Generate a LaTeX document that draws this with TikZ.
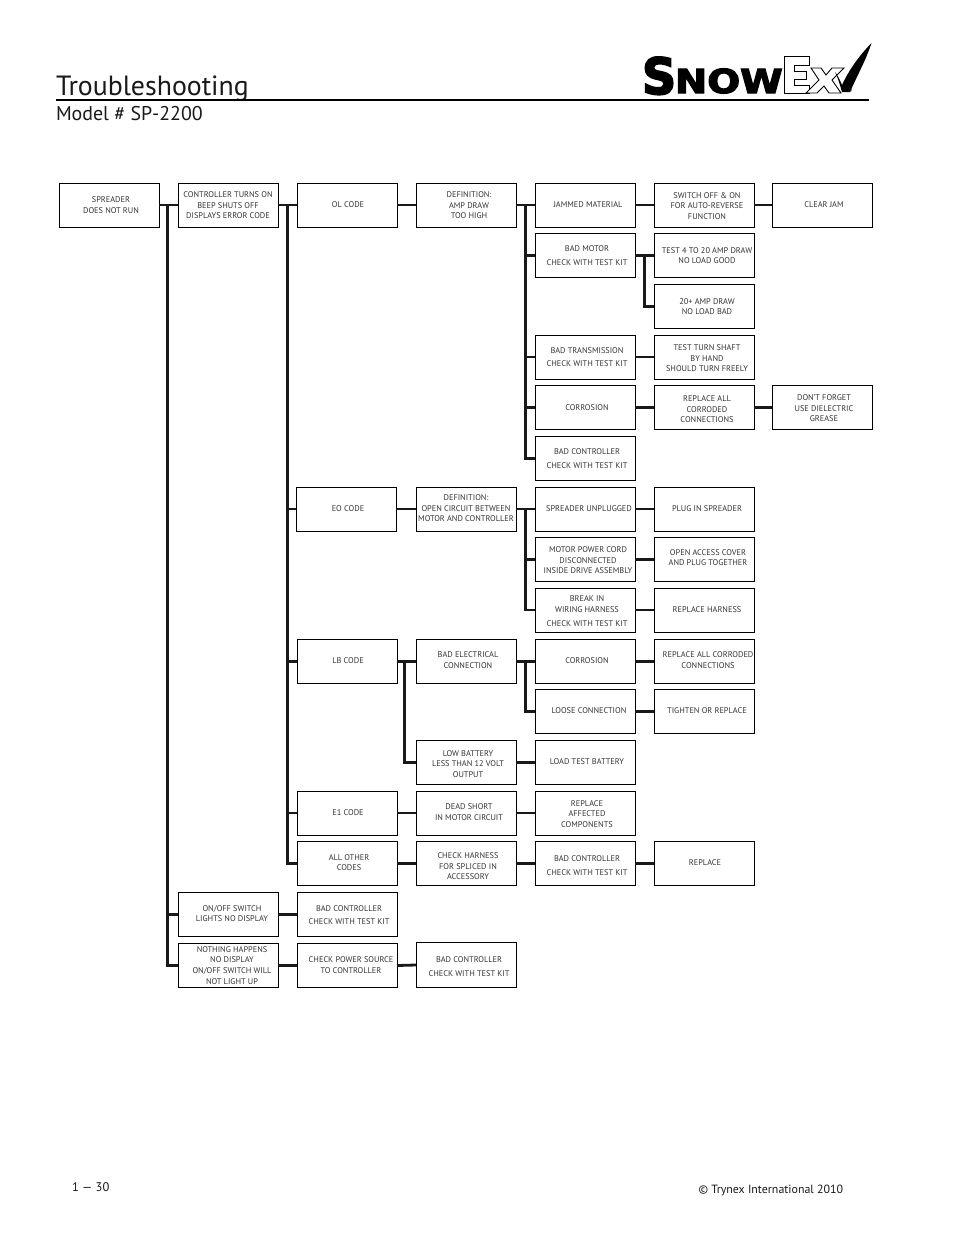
\documentclass[tikz,border=0pt]{standalone}
\usepackage{fontspec}
\setmainfont{PT Sans}
\newfontfamily\logofont{DejaVu Sans}[UprightFont=* Bold,FakeBold=3.5]
\usetikzlibrary{calc}
\newcommand{\tx}[3]{\raisebox{#2pt}[0pt][0pt]{\makebox[0pt]{\hspace*{#1pt}\hspace*{#1pt}\begin{tabular}{@{}c@{}}#3\end{tabular}}}}
\newcommand{\bx}[7]{%
  \pgfmathsetmacro{\cxv}{#2+50}\pgfmathsetmacro{\cyv}{(#3+#4)/2}%
  \pgfmathsetmacro{\hv}{#4-#3}\pgfmathsetmacro{\dxv}{#5-\cxv}\pgfmathsetmacro{\dyv}{\cyv-#6-3}%
  \node[flowbox,minimum height=\hv pt] (#1) at (\cxv,\cyv) {\tx{\dxv}{\dyv}{#7}};}
\tikzset{
  flowbox/.style={draw=black,line width=0.9pt,minimum width=100pt,inner sep=0pt,outer sep=0pt,font=\fontsize{8.3}{10.6}\selectfont,text=black!80},
  conn/.style={draw=black!90,line width=2.8pt,line cap=butt,line join=miter},
  plain/.style={inner sep=0pt,outer sep=0pt,text=black!90}
}
\begin{document}
\begin{tikzpicture}[x=1pt,y=-1pt]
\useasboundingbox (0,0) rectangle (954,1235);
% header
\node[plain,anchor=base west,font=\fontsize{27.8}{30}\selectfont] (title) at (56,95) {Troubleshooting};
\node[plain,anchor=base west,font=\fontsize{19.9}{22}\selectfont] (model) at (56,120) {Model \# SP-2200};
\coordinate (ruleL) at (56,100); \coordinate (ruleR) at (869,100);
\draw[black,line width=2pt] (ruleL) -- (ruleR);
% logo
\node[plain,anchor=base west,text=black,font=\logofont\fontsize{50}{50}\selectfont] (logoS) at (642,94) {\scalebox{0.95}[1]{S}};
\node[plain,anchor=base west,text=black,font=\logofont\fontsize{33}{33}\selectfont] (logoN) at (675,93) {\scalebox{1.17}[1]{NOW}};
\draw[black,line width=1pt,fill=white] (784,56) -- (809,56) -- (809,65) -- (794,65) -- (794,71) -- (806,71) -- (806,79) -- (794,79) -- (794,85) -- (809,85) -- (809,93) -- (784,93) -- cycle;
\draw[black,line width=0.9pt,fill=white] (811,68) -- (821,68) -- (826,75) -- (832,68) -- (844,68) -- (832,80) -- (841,93) -- (829,93) -- (824,86) -- (817,93) -- (806,93) -- (819,80) -- cycle;
\fill[black] (835,72) .. controls (838,76) and (840,80) .. (842,85) .. controls (850,68) and (860,55) .. (871.5,43) .. controls (866,60) and (857,76) .. (850,92) -- (842,92) .. controls (840,85) and (838,78) .. (835,72) -- cycle;
\node[plain,font=\fontsize{7}{7}\selectfont] (logoR) at (850,91) {®};
% boxes
\bx{a}{59}{183}{227}{111}{205}{SPREADER\\DOES NOT RUN}
\bx{b}{178}{183}{227}{228}{205}{CONTROLLER TURNS ON\\BEEP SHUTS OFF\\DISPLAYS ERROR CODE}
\bx{c}{297}{183}{227}{348}{204}{OL CODE}
\bx{d}{416}{183}{227}{469}{205}{DEFINITION:\\AMP DRAW\\TOO HIGH}
\bx{e}{535}{183}{227}{588}{204}{JAMMED MATERIAL}
\bx{f}{654}{183}{227}{707}{205.5}{SWITCH OFF \& ON\\FOR AUTO-REVERSE\\FUNCTION}
\bx{g}{772}{183}{227}{824}{204}{CLEAR JAM}
\bx{h}{535}{233.5}{277.5}{587}{255}{BAD MOTOR\\[3.4pt]CHECK WITH TEST KIT}
\bx{i}{654}{233.5}{277.5}{707}{255.5}{TEST 4 TO 20 AMP DRAW\\NO LOAD GOOD}
\bx{j}{654}{284.5}{328.5}{707}{306.5}{20+ AMP DRAW\\NO LOAD BAD}
\bx{k}{535}{335}{379}{587}{356.5}{BAD TRANSMISSION\\[2.4pt]CHECK WITH TEST KIT}
\bx{l}{654}{335}{379}{707}{358}{TEST TURN SHAFT\\BY HAND\\SHOULD TURN FREELY}
\bx{m}{535}{385.5}{429.5}{587}{407}{CORROSION}
\bx{n}{654}{385.5}{429.5}{707}{409}{REPLACE ALL\\CORRODED\\CONNECTIONS}
\bx{o}{772}{385.5}{429.5}{824}{408}{DON'T FORGET\\USE DIELECTRIC\\GREASE}
\bx{p}{535}{436.5}{480.5}{587}{458}{BAD CONTROLLER\\[3.4pt]CHECK WITH TEST KIT}
\bx{q}{296}{487}{531}{348}{508}{EO CODE}
\bx{r}{416}{487}{531}{466}{508}{DEFINITION:\\OPEN CIRCUIT BETWEEN\\MOTOR AND CONTROLLER}
\bx{s}{535}{487}{531}{589}{508}{SPREADER UNPLUGGED}
\bx{t}{654}{487}{531}{707}{508}{PLUG IN SPREADER}
\bx{u}{535}{537.5}{581.5}{588}{560}{MOTOR POWER CORD\\DISCONNECTED\\INSIDE DRIVE ASSEMBLY}
\bx{v}{654}{537.5}{581.5}{708}{557.5}{OPEN ACCESS COVER\\AND PLUG TOGETHER}
\bx{w}{535}{588}{632}{587}{611}{BREAK IN\\WIRING HARNESS\\[3.4pt]CHECK WITH TEST KIT}
\bx{x}{654}{588}{632}{707}{609}{REPLACE HARNESS}
\bx{y}{297}{639.5}{683.5}{348}{660}{LB CODE}
\bx{z}{416}{639.5}{683.5}{468}{660}{BAD ELECTRICAL\\CONNECTION}
\bx{aa}{535}{639.5}{683.5}{587}{660}{CORROSION}
\bx{ab}{654}{639.5}{683.5}{708}{660}{REPLACE ALL CORRODED\\CONNECTIONS}
\bx{ac}{535}{689.5}{733.5}{589}{710}{LOOSE CONNECTION}
\bx{ad}{654}{689.5}{733.5}{707}{710}{TIGHTEN OR REPLACE}
\bx{ae}{416}{740.5}{784.5}{468}{763.5}{LOW BATTERY\\LESS THAN 12 VOLT\\OUTPUT}
\bx{af}{535}{740.5}{784.5}{587}{761}{LOAD TEST BATTERY}
\bx{ag}{297}{791}{835}{348}{812}{E1 CODE}
\bx{ah}{416}{791}{835}{469}{812}{DEAD SHORT\\IN MOTOR CIRCUIT}
\bx{ai}{535}{791}{835}{587}{813.5}{REPLACE\\AFFECTED\\COMPONENTS}
\bx{aj}{297}{841.5}{885.5}{349}{862.5}{ALL OTHER\\CODES}
\bx{ak}{416}{841.5}{885.5}{468}{866}{CHECK HARNESS\\FOR SPLICED IN\\ACCESSORY}
\bx{al}{535}{841.5}{885.5}{587}{865}{BAD CONTROLLER\\[3.4pt]CHECK WITH TEST KIT}
\bx{am}{654}{841.5}{885.5}{705}{862}{REPLACE}
\bx{an}{178}{892.5}{936.5}{232}{913.5}{ON/OFF SWITCH\\LIGHTS NO DISPLAY}
\bx{ao}{297}{892.5}{936.5}{349}{914.5}{BAD CONTROLLER\\[2.4pt]CHECK WITH TEST KIT}
\bx{ap}{178}{943.5}{987.5}{232}{965}{NOTHING HAPPENS\\NO DISPLAY\\ON/OFF SWITCH WILL\\NOT LIGHT UP}
\bx{aq}{297}{943.5}{987.5}{351}{965}{CHECK POWER SOURCE\\TO CONTROLLER}
\bx{ar}{416}{942.5}{987.5}{469}{966}{BAD CONTROLLER\\[3.4pt]CHECK WITH TEST KIT}
% trunks
\coordinate (x1) at (167.5,0);
\coordinate (x2) at (287.5,0);
\coordinate (x3) at (525.5,0);
\coordinate (x4) at (644.5,0);
\coordinate (x5) at (404.5,0);
\coordinate (t1) at (x1 |- a.east);
\coordinate (t2) at (x2 |- b.east);
\coordinate (t3) at (x3 |- d.east);
\coordinate (t4) at (x4 |- h.east);
\coordinate (t5) at (x3 |- r.east);
\coordinate (t6) at (x5 |- z.east);
\coordinate (t7) at (x3 |- z.east);
% connectors
\draw[conn] (a.east) -- (b.west);
\draw[conn] (b.east) -- (c.west);
\draw[conn] (c.east) -- (d.west);
\draw[conn] (d.east) -- (e.west);
\draw[conn] (e.east) -- (f.west);
\draw[conn] (f.east) -- (g.west);
\draw[conn] (h.east) -- (i.west);
\draw[conn] (k.east) -- (l.west);
\draw[conn] (m.east) -- (n.west);
\draw[conn] (n.east) -- (o.west);
\draw[conn] (q.east) -- (r.west);
\draw[conn] (r.east) -- (s.west);
\draw[conn] (s.east) -- (t.west);
\draw[conn] (u.east) -- (v.west);
\draw[conn] (w.east) -- (x.west);
\draw[conn] (y.east) -- (z.west);
\draw[conn] (z.east) -- (aa.west);
\draw[conn] (aa.east) -- (ab.west);
\draw[conn] (ac.east) -- (ad.west);
\draw[conn] (ae.east) -- (af.west);
\draw[conn] (ag.east) -- (ah.west);
\draw[conn] (ah.east) -- (ai.west);
\draw[conn] (aj.east) -- (ak.west);
\draw[conn] (ak.east) -- (al.west);
\draw[conn] (al.east) -- (am.west);
\draw[conn] (an.east) -- (ao.west);
\draw[conn] (ap.east) -- (aq.west);
\draw[conn] (aq.east) -- (ar.west);
\draw[conn] (t1) |- (ap.west);
\draw[conn] (t1) |- (an.west);
\draw[conn] (t2) |- (aj.west);
\draw[conn] (t2) |- (ag.west);
\draw[conn] (t2) |- (y.west);
\draw[conn] (t2) |- (q.west);
\draw[conn] (t3) |- (p.west);
\draw[conn] (t3) |- (m.west);
\draw[conn] (t3) |- (k.west);
\draw[conn] (t3) |- (h.west);
\draw[conn] (t4) |- (j.west);
\draw[conn] (t5) |- (w.west);
\draw[conn] (t5) |- (u.west);
\draw[conn] (t6) |- (ae.west);
\draw[conn] (t7) |- (ac.west);
% footer
\node[plain,anchor=base west,font=\fontsize{12.5}{13}\selectfont] (pg) at (72,1191) {1 — 30};
\node[plain,anchor=base east,font=\fontsize{11.9}{13}\selectfont] (copy) at (843,1193) {© Trynex International 2010};
\end{tikzpicture}
\end{document}
